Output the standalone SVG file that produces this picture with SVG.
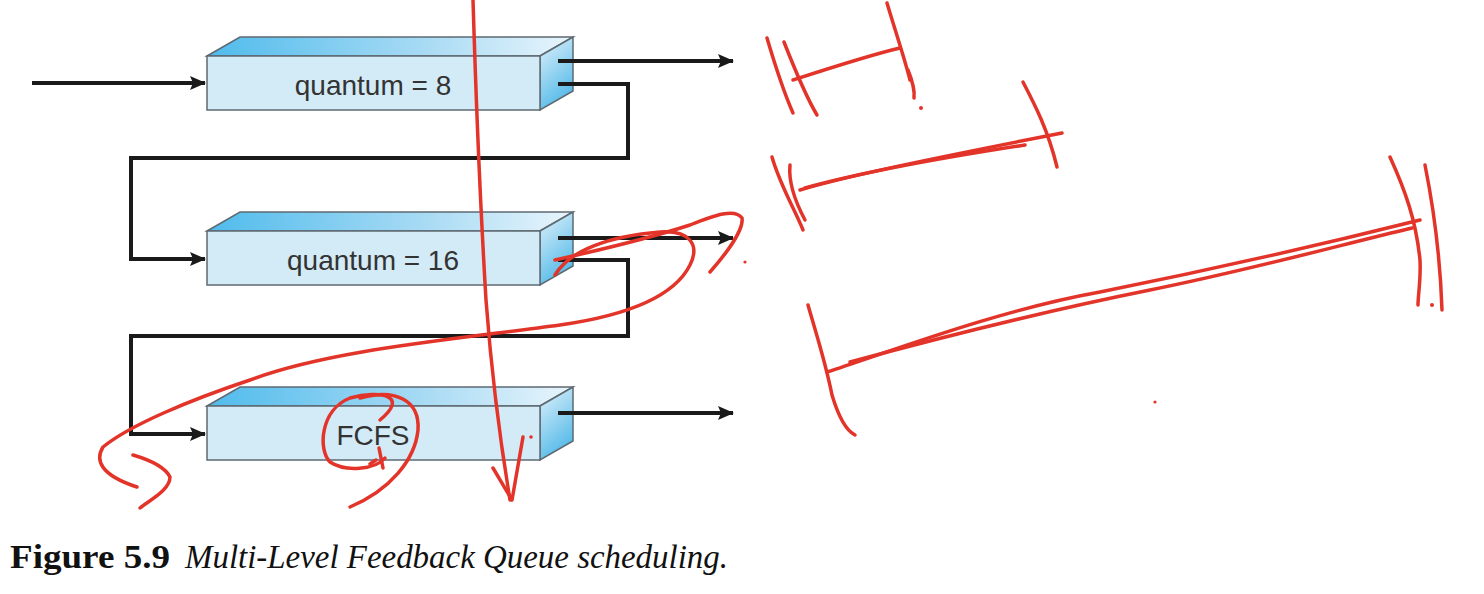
<svg xmlns="http://www.w3.org/2000/svg" width="1484" height="594" viewBox="0 0 1484 594">
<defs>
<linearGradient id="gTop" x1="0" y1="0" x2="1" y2="0">
<stop offset="0" stop-color="#4fbbec"/>
<stop offset="0.6" stop-color="#a9dbf4"/>
<stop offset="1" stop-color="#e9f5fc"/>
</linearGradient>
<linearGradient id="gSide" x1="0" y1="0" x2="0.4" y2="1">
<stop offset="0" stop-color="#e3f2fb"/>
<stop offset="1" stop-color="#56bbe9"/>
</linearGradient>
<marker id="ah" markerWidth="16" markerHeight="14" refX="15" refY="7" orient="auto" markerUnits="userSpaceOnUse">
<path d="M0,0 L16,7 L0,14 L3,7 z" fill="#1a1a1a"/>
</marker>
<g id="box">
<polygon points="0,19 33,0 366,0 333,19" fill="url(#gTop)" stroke="#5e6a72" stroke-width="1.5"/>
<polygon points="333,19 366,0 366,54 333,73" fill="url(#gSide)" stroke="#5e6a72" stroke-width="1.5"/>
<rect x="0" y="19" width="333" height="54" fill="#d3eaf7" stroke="#5e6a72" stroke-width="1.5"/>
</g>
</defs>
<style>
.lbl{font-family:"Liberation Sans",Arial,sans-serif;font-size:28px;fill:#333;text-anchor:middle}
.con{fill:none;stroke:#1a1a1a;stroke-width:4}
.ink{fill:none;stroke:#e3342a;stroke-width:3.5;stroke-linecap:round;stroke-linejoin:round}
</style>
<rect width="1484" height="594" fill="#fff"/>

<g id="q8"><use href="#box" x="207" y="37"/><text class="lbl" x="373" y="95">quantum = 8</text></g>
<g id="q16"><use href="#box" x="207" y="212"/><text class="lbl" x="373" y="270">quantum = 16</text></g>
<g id="fcfs"><use href="#box" x="207" y="387"/><text class="lbl" x="373" y="445">FCFS</text></g>

<g id="connectors">
<path class="con" d="M32,83 H205" marker-end="url(#ah)"/>
<path class="con" d="M558,61 H733" marker-end="url(#ah)"/>
<path class="con" d="M558,84 H628 V158 H131 V259 H205" marker-end="url(#ah)"/>
<path class="con" d="M558,238 H733" marker-end="url(#ah)"/>
<path class="con" d="M558,260 H628 V336 H131 V434 H205" marker-end="url(#ah)"/>
<path class="con" d="M558,413 H733" marker-end="url(#ah)"/>
</g>

<g id="caption">
<text x="10" y="568" font-family="Liberation Serif,Times New Roman,serif" font-weight="bold" font-size="34" textLength="160" lengthAdjust="spacingAndGlyphs" fill="#111">Figure 5.9</text>
<text x="185" y="568" font-family="Liberation Serif,Times New Roman,serif" font-style="italic" font-size="34" textLength="543" lengthAdjust="spacingAndGlyphs" fill="#111">Multi-Level Feedback Queue scheduling.</text>
</g>

<g id="annotations">
<path class="ink" d="M473,0 C476,100 480,200 486,300 C492,380 500,440 510,500"/>
<path class="ink" d="M493,468 L512,500 L523,437"/>
<circle cx="531" cy="437" r="1.8" fill="#e3342a"/>
<path class="ink" d="M555,275 C570,250 610,236 660,232 C690,230 700,245 690,265 C675,295 630,315 560,325 C450,340 330,350 250,380 C190,400 130,425 103,447 C95,460 100,475 137,487"/>
<path class="ink" d="M555,260 C600,250 650,238 690,225 C715,215 735,208 742,218 C744,230 725,255 710,272"/>
<circle cx="745" cy="262" r="1.6" fill="#e3342a"/>
<path class="ink" d="M133,455 C150,460 165,467 170,477 C170,490 150,500 140,508"/>
<path class="ink" d="M380,420 C410,395 380,390 350,398 C320,410 318,450 330,462 C345,472 375,470 385,458"/>
<path class="ink" d="M379,448 L383,468 M376,460 L370,464"/>
<path class="ink" d="M360,398 C395,388 420,400 418,430 C415,460 390,490 350,507"/>
<path class="ink" d="M767,38 C775,65 785,95 793,113"/>
<path class="ink" d="M784,42 C795,70 805,95 817,115"/>
<path class="ink" d="M793,80 C830,68 870,55 900,48"/>
<path class="ink" d="M887,3 C895,30 905,60 910,80 M908,70 C912,80 915,90 914,98"/>
<circle cx="921" cy="108" r="2" fill="#e3342a"/>
<path class="ink" d="M772,157 C780,185 795,210 803,230"/>
<path class="ink" d="M790,165 C788,185 797,205 805,220"/>
<path class="ink" d="M800,190 C850,175 950,155 1062,133"/>
<path class="ink" d="M805,188 C870,170 960,155 1025,145"/>
<path class="ink" d="M1023,82 C1035,105 1048,130 1057,167"/>
<path class="ink" d="M808,305 C815,330 825,360 832,395 C838,415 845,430 855,435"/>
<path class="ink" d="M827,372 C900,348 1000,310 1100,292 C1200,272 1320,245 1420,220"/>
<path class="ink" d="M850,362 C950,335 1050,310 1150,290 C1250,270 1340,245 1412,228"/>
<path class="ink" d="M1390,157 C1405,190 1416,220 1420,260 C1421,280 1418,295 1418,305"/>
<path class="ink" d="M1425,165 C1432,200 1440,250 1442,310"/>
<circle cx="1432" cy="305" r="2" fill="#e3342a"/>
<circle cx="1155" cy="402" r="1.6" fill="#e3342a"/>
</g>
</svg>
